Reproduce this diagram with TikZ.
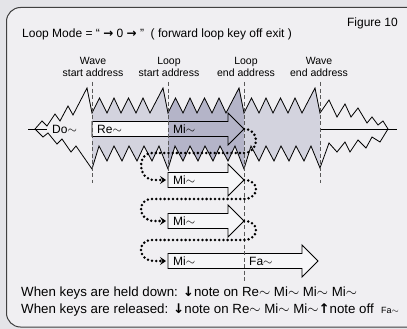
\documentclass[tikz,border=0pt]{standalone}
\usepackage{fontspec}
\setmainfont{Liberation Sans}
\newfontfamily\arrowfont{DejaVu Sans}
\usetikzlibrary{arrows.meta}

\definecolor{pagebg}{RGB}{228,228,232}
\definecolor{panelbg}{RGB}{240,239,242}
\definecolor{shadelight}{RGB}{211,211,222}
\definecolor{shadedark}{RGB}{180,180,200}
\definecolor{boxfill}{RGB}{246,246,248}

\newcommand{\squig}{\ensuremath{\sim}}
\newcommand{\keydown}{{\arrowfont\bfseries ↓}}
\newcommand{\keyup}{{\arrowfont\bfseries ↑}}

\tikzset{
  zig/.style={line width=0.8pt},
  addr/.style={draw=black!65, line width=0.8pt, dash pattern=on 4pt off 2.5pt},
  notearrow/.style={draw=black, line width=0.9pt},
  loopback/.style={line width=2.8pt, line cap=round, dash pattern=on 0pt off 4.2pt,
    shorten >=2pt, -{Stealth[length=6pt,width=8pt,inset=2.5pt]}},
  notetext/.style={font=\fontsize{12}{12}\selectfont, anchor=west, inner sep=0pt},
  addrtext/.style={font=\fontsize{10.5}{12}\selectfont, align=center, inner sep=0pt},
  plaintext/.style={font=\fontsize{12}{14}\selectfont, inner sep=0pt},
  keytext/.style={font=\fontsize{13.3}{15}\selectfont, inner sep=0pt, anchor=west}
}

\begin{document}
\begin{tikzpicture}[x=1pt,y=-1pt]
\useasboundingbox (0,0) rectangle (407,329);
\clip (0,0) rectangle (407,329);
\fill[pagebg] (0,0) rectangle (407,329);
\draw[fill=panelbg, draw=black!75, line width=1pt, rounded corners=14pt] (6.5,7.5) rectangle (422,327);

% ends of the note arrows
\coordinate (tipA) at (244,129);
\coordinate (tailB) at (168,180);
\coordinate (tipB) at (244,180);
\coordinate (tailC) at (168,221);
\coordinate (tipC) at (244,221);
\coordinate (tailD) at (168,261);

% shaded parts of the wave
\foreach \s/\c in {92/shadelight,168/shadedark,244/shadelight}
  \fill[\c] (\s,113) -- (\s+7.5,98) -- (\s+15,113) -- (\s+22,98) -- (\s+29,113) -- (\s+36.5,98)
    -- (\s+44,113) -- (\s+51,98) -- (\s+58,113) -- (\s+71,88) -- (\s+76,113)
    -- (\s+76,169) -- (\s+67,146) -- (\s+60,161) -- (\s+52,146) -- (\s+45,161) -- (\s+37,146)
    -- (\s+30,161) -- (\s+22,146) -- (\s+15,161) -- (\s+7,146) -- (\s,169) -- cycle;

% wave outline
\draw[zig] (35,129) -- (42,121) -- (47,126) -- (55,114) -- (60,121) -- (68,106) -- (73,115) -- (87,88)
  \foreach \s in {92,168,244} { -- (\s,113) -- (\s+7.5,98) -- (\s+15,113) -- (\s+22,98) -- (\s+29,113)
    -- (\s+36.5,98) -- (\s+44,113) -- (\s+51,98) -- (\s+58,113) -- (\s+71,88) }
  -- (320,113) -- (329,100) -- (337,117) -- (345,104) -- (351,117) -- (358,108) -- (367,123)
  -- (372,117) -- (378,125) -- (383,121) -- (388,129);
\draw[zig] (35,129) -- (43,137) -- (48,133) -- (57,144) -- (62,139) -- (71,152) -- (76,146)
  \foreach \s in {92,168,244} { -- (\s,169) -- (\s+7,146) -- (\s+15,161) -- (\s+22,146) -- (\s+30,161)
    -- (\s+37,146) -- (\s+45,161) -- (\s+52,146) -- (\s+60,161) -- (\s+67,146) }
  -- (320,168) -- (329,143) -- (337,152) -- (345,142) -- (350,152) -- (358,140) -- (366,148)
  -- (372,137) -- (380,142) -- (388,129);
\draw[zig] (28,129) -- (47,129);
\draw[zig] (320,129) -- (397,129);

% note arrows
\fill[boxfill] (92,121.5) rectangle (168,136.5);
\draw[notearrow] (92,121.5) -- (228,121.5) -- (228,113) -- (tipA) -- (228,145) -- (228,136.5) -- (92,136.5) -- cycle;
\draw[notearrow, fill=boxfill] (tailB) -- (168,172.5) -- (228,172.5) -- (228,164) -- (tipB) -- (228,196) -- (228,187.5) -- (168,187.5) -- cycle;
\draw[notearrow, fill=boxfill] (tailC) -- (168,213.5) -- (228,213.5) -- (228,205) -- (tipC) -- (228,237) -- (228,228.5) -- (168,228.5) -- cycle;
\draw[notearrow, fill=boxfill] (tailD) -- (168,253.5) -- (302,253.5) -- (302,245) -- (318,261) -- (302,277) -- (302,268.5) -- (168,268.5) -- cycle;

% address lines
\draw[addr] (92,82) -- (92,183);
\draw[addr] (168,82) -- (168,172);
\draw[addr] (244,82) -- (244,281);
\draw[addr] (320,82) -- (320,183);

\node[notetext] (doNote) at (52,129.5) {Do\squig};
\node[notetext] (reNote) at (97,129.5) {Re\squig};
\node[notetext] (miNoteA) at (173,129.5) {Mi\squig};
\node[notetext] (miNoteB) at (173,180.5) {Mi\squig};
\node[notetext] (miNoteC) at (173,221.5) {Mi\squig};
\node[notetext] (miNoteD) at (173,261.5) {Mi\squig};
\node[notetext] (faNote) at (249,261.5) {Fa\squig};

% loop back
\draw[loopback] (tipA) .. controls (261,129) and (259,153) .. (244,153) -- (152,153)
  .. controls (136,153) and (138,180) .. (154,180) -- (tailB);
\draw[loopback] (tipB) .. controls (261,180) and (259,199) .. (244,199) -- (152,199)
  .. controls (136,199) and (138,221) .. (154,221) -- (tailC);
\draw[loopback] (tipC) .. controls (261,221) and (259,240) .. (244,240) -- (152,240)
  .. controls (136,240) and (138,261) .. (154,261) -- (tailD);

\node[addrtext] (waveStart) at (93,66.5) {Wave\\start address};
\node[addrtext] (loopStart) at (169,66.5) {Loop\\start address};
\node[addrtext] (loopEnd) at (246,66.5) {Loop\\end address};
\node[addrtext] (waveEnd) at (319,66.5) {Wave\\end address};

\node[plaintext, anchor=west] (title) at (22,34) {Loop Mode = “ {\arrowfont\bfseries →} 0 {\arrowfont\bfseries →} ”\ \ ( forward loop key off exit )};
\node[plaintext, anchor=east] (figNo) at (398,23) {Figure 10};
\node[keytext] (heldLine) at (21,293) {When keys are held down: \keydown note on Re\squig{} Mi\squig{} Mi\squig{} Mi\squig};
\node[keytext] (relLine) at (21,310) {When keys are released: \keydown note on Re\squig{} Mi\squig{} Mi\squig\keyup note off\ \ {\fontsize{9}{9}\selectfont Fa\squig}};
\end{tikzpicture}
\end{document}
